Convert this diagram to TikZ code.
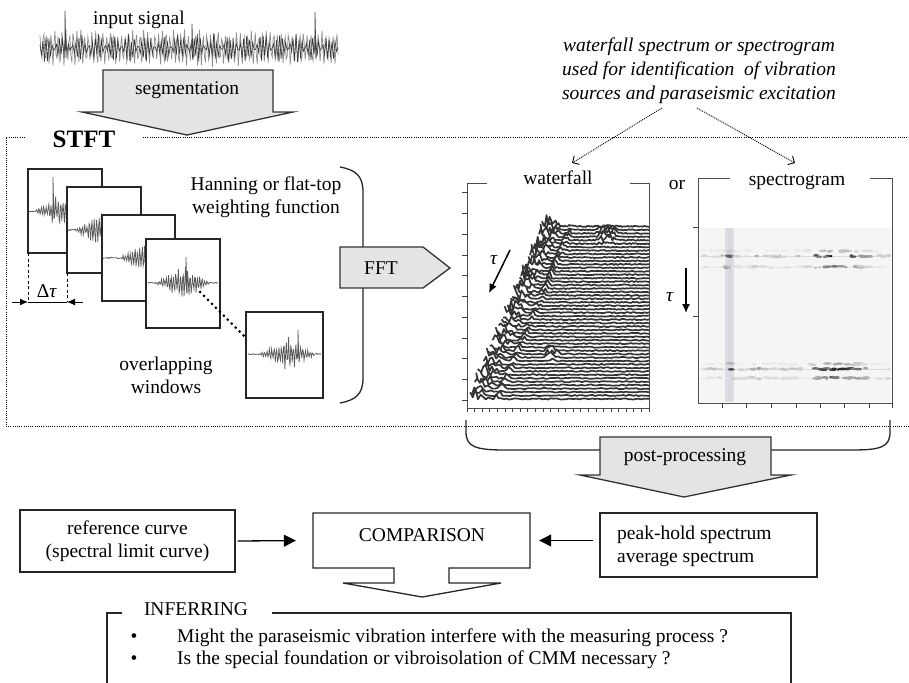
\documentclass[tikz,border=0pt]{standalone}
\usepackage{fontspec}
\setmainfont{Liberation Serif}
\usetikzlibrary{arrows.meta}
\definecolor{arrowfill}{HTML}{E4E4E4}
\definecolor{bandc}{HTML}{DCDCE4}
\newcommand\myfs{\fontsize{19.5}{23}\selectfont}
\newcommand\hfun{abs(rand)*(13*max(0,1-(\x-\xl)/20)+6*max(0,1-abs(\x-\xl-27)/4)+1.2+13*\bA*max(0,1-abs(\x-607)/13)+13*\bB*max(0,1-abs(\x-552)/8))}
\newcommand\winsig[6]{%
  \pgfmathsetseed{#6}%
  \draw[sigline] plot[domain=#1:#2, samples=100] (\x,{#3-19*max(0,1-abs(\x-#4)/#5)*sin(10*mod(\x*15,36))*(0.35+0.65*abs(rand))-0.6*rand});%
}
\begin{document}
\begin{tikzpicture}[x=1pt,y=-1pt,
  every node/.style={font=\myfs, inner sep=0pt},
  bigarrow/.style={draw=black!80, line width=1.3pt, fill=arrowfill, line join=miter},
  boxline/.style={draw=black!85, line width=1.3pt},
  stftline/.style={line width=1pt, dash pattern=on 1pt off 1.2pt},
  sigline/.style={black!65, line width=0.7pt},
  winbox/.style={draw=black!85, line width=1.1pt, fill=white},
  tick/.style={line width=0.6pt, black!75},
  frameline/.style={line width=0.9pt, black!70},
  tauarrow/.style={line width=1.5pt, -{Latex[length=9pt,width=8pt]}},
  notearrow/.style={line width=0.9pt, dash pattern=on 1pt off 1pt, -{Straight Barb[length=5pt,width=10pt]}},
  solidarrow/.style={line width=1.3pt, -{Triangle[length=12pt,width=12pt]}}]
\useasboundingbox (0,0) rectangle (909,682);
\fill[white] (0,0) rectangle (909,682);

% ---------- input signal ----------
\pgfmathsetseed{7}
\draw[line width=0.7pt, black!45] plot[domain=40:338, samples=300] (\x,{48+(11+8*abs(rand))*sin(10*mod(\x*9.7,36))});
\pgfmathsetseed{19}
\draw[line width=0.6pt, black!80] plot[domain=40:338, samples=200] (\x,{48+(6+9*abs(rand))*sin(10*mod(\x*13.1,36))});
\draw[line width=0.7pt, black!75] (65,50) -- (65,11) -- (66,58);
\draw[line width=0.7pt, black!75] (192,48) -- (192,24) -- (193,60);
\draw[line width=0.7pt, black!75] (315,48) -- (315,12) -- (316,58);
\node (insig) at (139,20) {input signal};

% ---------- segmentation arrow ----------
\draw[bigarrow] (103,70) -- (273,70) -- (273,112) -- (293,112) -- (187,135) -- (82,112) -- (103,112) -- cycle;
\node (seg) at (187,90) {segmentation};

% ---------- STFT frame ----------
\draw[stftline] (25,137) -- (6,137) -- (6,426) -- (909,426);
\draw[stftline] (143,137) -- (909,137);
\node[font=\fontsize{25}{28}\selectfont\bfseries] (stft) at (84,139) {STFT};

% ---------- windows ----------
\draw[winbox] (28,169) rectangle (102,253);
\draw[sigline] (29,211) -- (34,211);
\winsig{34}{101}{211}{60}{26}{11}
\draw[sigline] (53,213) -- (53,177) -- (54,218);
\draw[winbox] (67,187) rectangle (141,273);
\winsig{68}{140}{230}{100}{26}{12}
\draw[winbox] (102,215) rectangle (175,301);
\winsig{103}{174}{258}{145}{26}{13}
\draw[winbox] (146,239) rectangle (220,328);
\winsig{148}{218}{283}{183}{28}{14}
\draw[sigline] (186,285) -- (186,257) -- (187,292);
\draw[winbox] (246,312) rectangle (323,398);
\winsig{248}{321}{354}{288}{28}{15}
\draw[sigline] (298,356) -- (298,330) -- (299,362);
\coordinate (w4c) at (200,292);
\coordinate (w5c) at (245,337);
\draw[line width=3pt, line cap=round, dash pattern=on 0pt off 5.6pt] (w4c) -- (w5c);

% delta tau
\coordinate (d1) at (28,302);
\coordinate (d2) at (67,302);
\draw[line width=0.8pt, dash pattern=on 3pt off 2.5pt] (28,253) -- (d1);
\draw[line width=0.8pt, dash pattern=on 3pt off 2.5pt] (67,273) -- (d2);
\coordinate (d0) at (12,302);
\coordinate (d3) at (83,302);
\draw[line width=1pt, -{Latex[length=8pt,width=7pt]}] (d0) -- (d1);
\draw[line width=1pt] (d1) -- (d2);
\draw[line width=1pt, -{Latex[length=8pt,width=7pt]}] (d3) -- (d2);
\node (dtau) at (47,291) {Δ\textit{τ}};

\node[align=center] (hann) at (266,197) {Hanning or flat-top\\weighting function};
\node[align=center] (overl) at (166,375) {overlapping\\windows};

% ---------- bracket and FFT ----------
\draw[line width=1.3pt, black!85] (340,167) .. controls (356,170) and (363,176) .. (363,192) -- (363,378) .. controls (363,394) and (356,400) .. (340,403);
\draw[bigarrow] (340,247) -- (423,247) -- (450,268) -- (423,288) -- (340,288) -- cycle;
\node (fft) at (381,268) {FFT};

% ---------- waterfall ----------
\foreach \i in {0,...,50}{
  \pgfmathsetmacro\yy{227+\i*3.45}
  \pgfmathsetmacro\xl{545-(\yy-227)*0.4335}
  \pgfmathsetmacro\bA{max(0,1-abs(\yy-236)/10)}
  \pgfmathsetmacro\bB{max(0,1-abs(\yy-355)/9)}
  \pgfmathsetseed{\i*13+5}
  \fill[white] plot[domain=\xl:649, samples=70] (\x,{\yy-\hfun}) -- (649,\yy+2) -- (\xl,\yy+2) -- cycle;
  \pgfmathsetseed{\i*13+5}
  \draw[line width=1.7pt, line join=round, black!80] plot[domain=\xl:649, samples=70] (\x,{\yy-\hfun});
}
\draw[frameline] (487,183) -- (467,183) -- (467,408) -- (649,408) -- (649,183) -- (630,183);
\foreach \t in {0,...,10} \draw[tick] (462,{192.7+\t*20.73}) -- (467,{192.7+\t*20.73});
\foreach \t in {0,...,24} \draw[tick] ({467+\t*7.58},408) -- ({467+\t*7.58},412);
\node (wf) at (558,178) {waterfall};
\coordinate (wt1) at (510,250);
\coordinate (wt2) at (489,293);
\draw[tauarrow] (wt1) -- (wt2);
\node (wtau) at (494,260) {\textit{τ}};

% ---------- spectrogram ----------
\fill[black!4] (700,228) rectangle (891,402);
\fill[bandc] (725,228) rectangle (734,402);
\fill[black!16] (729,228) rectangle (731,402);
\draw[black!14, line width=0.9pt] (700,256) -- (891,256);
\draw[black!9, line width=0.9pt] (700,267) -- (891,267);
\draw[black!14, line width=0.9pt] (700,369) -- (891,369);
\draw[black!9, line width=0.9pt] (700,378) -- (891,378);
\pgfmathsetseed{42}
\foreach \row/\ins in {256/1, 251/0.35, 267/0.55, 369/1, 364/0.35, 378/0.65}{
  \foreach \k in {1,...,45}{
    \pgfmathsetmacro\bx{701+188*rnd}
    \pgfmathsetmacro\gg{min(95,1.4*\ins*(18+65*max(0,1-abs(\bx-838)/38)+60*max(0,1-abs(\bx-729)/7)+25*max(0,1-abs(\bx-758)/8))*(0.55+0.45*rnd))}
    \pgfmathsetmacro\bw{1.5+3*rnd}
    \fill[black!\gg] (\bx,{\row+1.6*(rnd-0.5)}) ellipse ({\bw} and 1.3);
  }
}
\draw[frameline] (730,178) -- (698,178) -- (698,403) -- (892,403) -- (892,178) -- (870,178);
\draw[tick] (693,227) -- (698,227);
\draw[tick] (693,316) -- (698,316);
\foreach \t in {722,746,771,796,820,844,869,892} \draw[tick] (\t,403) -- (\t,408);
\node (spg) at (797,182) {spectrogram};
\node (orlbl) at (677,185) {or};
\coordinate (st1) at (686,268);
\coordinate (st2) at (686,313);
\draw[tauarrow] (st1) -- (st2);
\node (stau) at (670,297) {\textit{τ}};

% ---------- annotation ----------
\node[align=center, font=\fontsize{19.5}{24}\selectfont\itshape] (note) at (699,71) {waterfall spectrum or spectrogram\\used for identification\ \ of vibration\\sources and paraseismic excitation};
\coordinate (n1) at (662,108);
\coordinate (n2) at (697,108);
\coordinate (e1) at (572,163);
\coordinate (e2) at (795,163);
\draw[notearrow] (n1) -- (e1);
\draw[notearrow] (n2) -- (e2);

% ---------- post-processing ----------
\draw[line width=1.3pt, black!85] (466,420) -- (466,432) .. controls (466,447) and (476,450) .. (505,450) -- (600,450);
\draw[line width=1.3pt, black!85] (771,450) -- (852,450) .. controls (881,450) and (890,447) .. (890,432) -- (890,420);
\draw[bigarrow] (600,437) -- (771,437) -- (771,475) -- (791,475) -- (684,497) -- (580,475) -- (600,475) -- cycle;
\node (post) at (685,457) {post-processing};

% ---------- bottom boxes ----------
\node[boxline, minimum width=215pt, minimum height=62pt, align=center] (ref) at (127.5,541) {reference curve\\(spectral limit curve)};
\node[minimum width=217pt, minimum height=55pt] (cmp) at (421.5,540.5) {};
\draw[boxline, line join=miter] (313,513) -- (530,513) -- (530,568) -- (449,568) -- (449,583) -- (501,583) -- (422,597) -- (343,583) -- (394,583) -- (394,568) -- (313,568) -- cycle;
\node (cmptxt) at (422,535) {COMPARISON};
\node[boxline, minimum width=217pt, minimum height=64pt] (peak) at (708.5,545) {};
\node[anchor=west, align=left] (peaktxt) at (617,546) {peak-hold spectrum\\average spectrum};
\draw[solidarrow, shorten >=17pt, shorten <=2pt] (ref.east) -- (cmp.west);
\draw[solidarrow, shorten >=9pt, shorten <=6pt] (peak.west |- cmp.east) -- (cmp.east);

% ---------- inferring ----------
\draw[boxline] (122,613) -- (107,613) -- (107,690);
\draw[boxline] (272,613) -- (791,613) -- (791,690);
\node (infer) at (196,609) {INFERRING};
\node (b1) at (134,638) {•};
\node (b2) at (134,660) {•};
\node[anchor=west] (t1) at (177,638) {Might the paraseismic vibration interfere with the measuring process ?};
\node[anchor=west] (t2) at (177,660) {Is the special foundation or vibroisolation of CMM necessary ?};
\end{tikzpicture}
\end{document}
